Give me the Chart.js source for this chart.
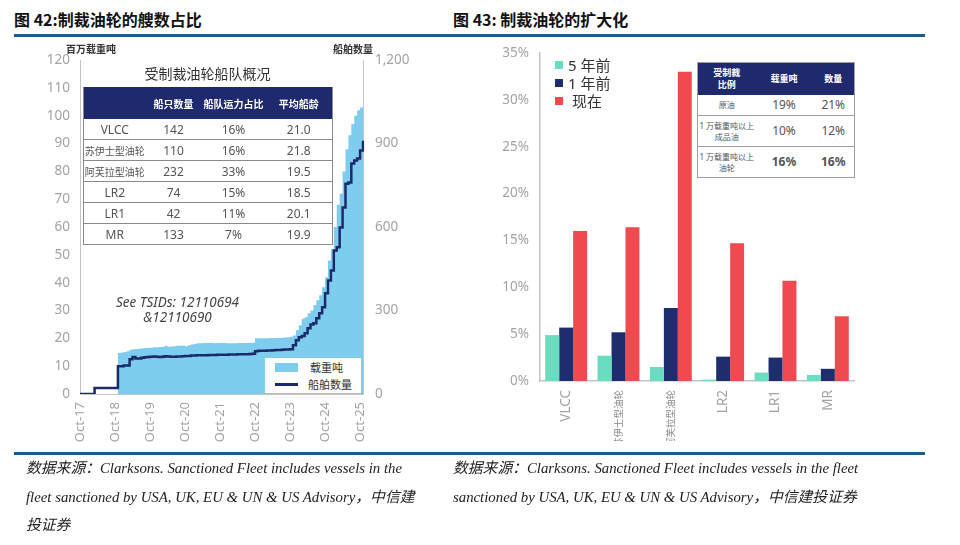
<!DOCTYPE html>
<html>
<head>
<meta charset="utf-8">
<script src="https://cdn.jsdelivr.net/npm/chart.js@4.4.1/dist/chart.umd.min.js"></script>
<style>
  body { margin: 0; width: 960px; height: 545px; background: #fff; position: relative; overflow: hidden;
         font-family: "Noto Sans", "Noto Sans CJK SC", sans-serif; }
  .abs { position: absolute; }
  .title { font-family: "Noto Sans CJK SC", sans-serif; font-weight: bold; font-size: 16px; color: #111; top: 7px; }
  .rule { left: 14px; width: 911px; height: 3px; background: #1f5a8a; }
  .note { font-family: "Liberation Serif", "Noto Sans CJK SC", serif; font-style: italic; font-size: 14.8px;
          color: #222; line-height: 28.5px; top: 454px; white-space: nowrap; }
  table { border-collapse: collapse; table-layout: fixed; }
  td, th { padding: 0; text-align: center; white-space: nowrap; }
  .t1 { border-left: 1px solid #8a8a8a; border-right: 1px solid #8a8a8a; }
  .t1 th { background: #1f2a6e; color: #fff; font-size: 10px; font-weight: bold; height: 32px; }
  .t1 td { border-bottom: 1px solid #8a8a8a; font-size: 12px; color: #555; height: 20px; }
  .t1 td.cn { font-size: 10px; }
  .t2 { border: 1px solid #a0a0a0; }
  .t2 th { background: #1f2a6e; color: #fff; font-size: 9px; font-weight: bold; height: 32px; line-height: 12px; }
  .t2 td { border-bottom: 1px solid #a0a0a0; font-size: 12px; color: #555; }
  .t2 td.lab { font-size: 8px; line-height: 11px; }
  .leg2 { font-size: 15px; color: #333; }
  .sq { display: inline-block; width: 8px; height: 8px; margin-right: 5px; vertical-align: 2px; }
</style>
</head>
<body>

<div class="abs title" style="left:14px;">图 42:制裁油轮的艘数占比</div>
<div class="abs title" style="left:453px;">图 43: 制裁油轮的扩大化</div>
<div class="abs rule" style="top:34px;"></div>

<div class="abs" style="left:0;top:40px;width:440px;height:410px;"><canvas id="fleet"></canvas></div>
<div class="abs" style="left:480px;top:34px;width:420px;height:431px;"><canvas id="growth"></canvas></div>

<div class="abs rule" style="top:452px;"></div>

<div class="abs" style="left:66px;top:41px;font-size:10px;font-weight:bold;color:#333;font-family:'Noto Sans CJK SC';">百万载重吨</div>
<div class="abs" style="left:333px;top:41px;font-size:10px;font-weight:bold;color:#333;font-family:'Noto Sans CJK SC';">船舶数量</div>

<div class="abs" style="left:83px;top:63px;width:249px;text-align:center;font-size:14px;color:#333;font-family:'Noto Sans CJK SC';">受制裁油轮船队概况</div>
<div class="abs" id="fleetTable" style="left:83px;top:87px;background:#fff;"></div>

<div class="abs" style="left:90px;top:295px;width:175px;text-align:center;font-size:13.5px;font-style:italic;color:#444;line-height:15px;">See TSIDs: 12110694<br>&amp;12110690</div>

<div class="abs" style="left:265px;top:358px;width:96px;height:35px;background:#fff;font-size:11px;color:#333;font-family:'Noto Sans CJK SC';">
  <div class="abs" style="left:10px;top:5px;width:23px;height:9px;background:#7fcdee;"></div>
  <div class="abs" style="left:45px;top:1px;">载重吨</div>
  <div class="abs" style="left:10px;top:25px;width:23px;height:3px;background:#1b2a6b;"></div>
  <div class="abs" style="left:43px;top:18px;">船舶数量</div>
</div>

<div class="abs leg2" style="left:555px;top:56px;line-height:18px;">
  <div><span class="sq" style="background:#6adcbf;"></span>5 年前</div>
  <div><span class="sq" style="background:#1e2d6e;"></span>1 年前</div>
  <div><span class="sq" style="background:#f0494f;"></span>&nbsp;现在</div>
</div>
<div class="abs" id="shareTable" style="left:697px;top:62px;background:#fff;"></div>

<div class="abs note" style="left:26px;">数据来源：Clarksons. Sanctioned Fleet includes vessels in the<br>fleet sanctioned by USA, UK, EU &amp; UN &amp; US Advisory，中信建<br>投证券</div>
<div class="abs note" style="left:453px;">数据来源：Clarksons. Sanctioned Fleet includes vessels in the fleet<br>sanctioned by USA, UK, EU &amp; UN &amp; US Advisory，中信建投证券</div>

<script>
// ---- figure 42: sanctioned fleet, monthly Oct-17 .. Nov-25 ----
const monthNames = ["Jan","Feb","Mar","Apr","May","Jun","Jul","Aug","Sep","Oct","Nov","Dec"];
const months = [];
for (let i = 0; i < 98; i++) {
    const m = (9 + i) % 12, y = 17 + Math.floor((9 + i) / 12);
    months.push(monthNames[m] + "-" + y);
}

// million dwt
const dwt = [
    0, 0, 0, 0, 0, 0, 0, 0, 0, 0, 0, 0, 0,
    14.7, 14.9, 15.1, 15.4, 15.9, 16.1, 16.2, 16.3, 16.4, 16.5, 16.6, 16.6,
    16.8, 16.8, 16.9, 17.0, 17.3, 17.0, 17.1, 17.2, 17.3, 17.3, 17.4, 17.2,
    17.5, 17.8, 18.0, 18.2, 18.2, 18.3, 18.3, 18.3, 18.3, 18.2, 18.3, 18.3,
    18.3, 18.2, 18.2, 18.2, 18.2, 18.3, 18.3, 18.3, 18.3, 18.4, 18.4,
    20.0, 20.0, 20.0, 20.0, 20.0, 20.1, 20.1, 20.1, 20.2, 20.2, 20.3, 20.4, 20.6,
    21, 23, 24.7, 27, 27.6, 29, 30, 32, 33.7, 35.5, 38.4, 42, 48, 52, 60, 68, 72, 80, 88, 93, 97, 100, 102, 103, 107
];

// number of vessels
const ships = [
    0, 0, 0, 0, 0, 22, 22, 22, 22, 22, 22, 22, 22,
    100, 100, 102, 102, 125, 133, 128, 128, 130, 132, 133, 134,
    135, 134, 133, 134, 136, 135, 134, 134, 135, 135, 136, 137,
    137, 138, 138, 139, 139, 139, 139, 140, 140, 140, 141, 141,
    141, 141, 142, 142, 142, 143, 143, 143, 143, 144, 145,
    154, 155, 155, 155, 156, 156, 157, 158, 158, 159, 160, 160, 161,
    175, 193, 204, 208, 218, 236, 250, 254, 272, 290, 312, 362, 408, 444, 516, 527, 598, 670, 756, 760, 828, 839, 846, 875, 910
];

const fleetHead = ["", "船只数量", "船队运力占比", "平均船龄"];
const fleetTypes = ["VLCC", "苏伊士型油轮", "阿芙拉型油轮", "LR2", "LR1", "MR"];
const fleetCount = [142, 110, 232, 74, 42, 133];
const fleetShare = ["16%", "16%", "33%", "15%", "11%", "7%"];
const fleetAge = ["21.0", "21.8", "19.5", "18.5", "20.1", "19.9"];

// ---- figure 43: sanctioned share by segment (%) ----
const segments = ["VLCC", "苏伊士型油轮", "阿芙拉型油轮", "LR2", "LR1", "MR"];
const share5y = [4.9, 2.7, 1.5, 0.15, 0.9, 0.65];
const share1y = [5.7, 5.2, 7.8, 2.6, 2.5, 1.3];
const shareNow = [16.0, 16.4, 33.0, 14.7, 10.7, 6.9];
const shareTicks = [0, 5, 10, 15, 20, 25, 30, 35];

const sumHead = ["受制裁<br>比例", "载重吨", "数量"];
const sumLabels = ["原油", "1 万载重吨以上<br>成品油", "1 万载重吨以上<br>油轮"];
const sumDwt = ["19%", "10%", "16%"];
const sumNum = ["21%", "12%", "16%"];

// ---- tables ----
function buildFleetTable() {
    const w = [62, 56, 64, 67];
    let h = '<table class="t1" style="width:249px;"><colgroup>' +
        w.map(x => '<col style="width:' + x + 'px">').join('') + '</colgroup><tr>' +
        fleetHead.map(x => '<th>' + x + '</th>').join('') + '</tr>';
    fleetTypes.forEach((t, i) => {
        const c = /[A-Z]/.test(t) ? '' : ' class="cn"';
        h += '<tr><td' + c + '>' + t + '</td><td>' + fleetCount[i] + '</td><td>' +
            fleetShare[i] + '</td><td>' + fleetAge[i] + '</td></tr>';
    });
    document.getElementById("fleetTable").innerHTML = h + '</table>';
}

function buildShareTable() {
    const w = [58, 57, 42];
    const rh = [20, 31, 31];
    let h = '<table class="t2" style="width:157px;"><colgroup>' +
        w.map(x => '<col style="width:' + x + 'px">').join('') + '</colgroup><tr>' +
        sumHead.map(x => '<th>' + x + '</th>').join('') + '</tr>';
    sumLabels.forEach((t, i) => {
        const b = i === 2 ? ' style="font-weight:bold"' : '';
        h += '<tr style="height:' + rh[i] + 'px"><td class="lab">' + t + '</td><td' + b + '>' +
            sumDwt[i] + '</td><td' + b + '>' + sumNum[i] + '</td></tr>';
    });
    document.getElementById("shareTable").innerHTML = h + '</table>';
}

buildFleetTable();
buildShareTable();

// ---- charts ----
const tickColor = "#a3a3a3";
const axisColor = "#c4c4c4";
const tickFont = { family: "Noto Sans", size: 13.5 };
const isLatin = s => /[A-Z]/.test(s);

new Chart(document.getElementById("fleet"), {
    type: "line",
    data: {
        labels: months,
        datasets: [
            {
                label: "船舶数量",
                data: ships,
                yAxisID: "y1",
                stepped: true,
                borderColor: "#1b2a6b",
                borderWidth: 2.5,
                pointRadius: 0,
                fill: false,
                order: 1,
            },
            {
                label: "载重吨",
                data: dwt,
                yAxisID: "y",
                stepped: true,
                borderWidth: 0,
                backgroundColor: "#7fcdee",
                borderColor: "#7fcdee",
                pointRadius: 0,
                fill: "origin",
                order: 2,
            }
        ]
    },
    options: {
        responsive: true,
        maintainAspectRatio: false,
        animation: false,
        layout: { padding: { left: 30, right: 27, top: 12, bottom: 6 } },
        plugins: { legend: { display: false }, tooltip: { enabled: false } },
        scales: {
            x: {
                grid: { display: false, drawTicks: false },
                border: { color: axisColor },
                afterFit: s => { s.height = 50; },
                ticks: {
                    autoSkip: false,
                    minRotation: 90,
                    maxRotation: 90,
                    padding: 8,
                    color: tickColor,
                    font: { family: "Noto Sans", size: 13 },
                    callback: (v, i) => months[i].startsWith("Oct") ? months[i] : "",
                }
            },
            y: {
                position: "left",
                min: 0,
                max: 120,
                grid: { display: false, drawTicks: false },
                border: { color: axisColor },
                afterFit: s => { s.width = 50; },
                ticks: { stepSize: 10, color: tickColor, font: tickFont, padding: 10 }
            },
            y1: {
                position: "right",
                min: 0,
                max: 1200,
                grid: { display: false, drawTicks: false },
                border: { color: axisColor },
                afterFit: s => { s.width = 50; },
                ticks: {
                    stepSize: 300,
                    color: tickColor,
                    font: tickFont,
                    padding: 12,
                    callback: v => v.toLocaleString("en-US"),
                }
            }
        }
    }
});

new Chart(document.getElementById("growth"), {
    type: "bar",
    data: {
        labels: segments,
        datasets: [
            { label: "5 年前", data: share5y, backgroundColor: "#6adcbf" },
            { label: "1 年前", data: share1y, backgroundColor: "#1e2d6e" },
            { label: "现在", data: shareNow, backgroundColor: "#f0494f" }
        ]
    },
    options: {
        responsive: true,
        maintainAspectRatio: false,
        animation: false,
        layout: { padding: { left: 20, right: 46, top: 5, bottom: 24 } },
        plugins: { legend: { display: false }, tooltip: { enabled: false } },
        datasets: { bar: { categoryPercentage: 0.8, barPercentage: 1.0 } },
        scales: {
            x: {
                grid: { display: false, drawTicks: false },
                border: { color: axisColor, width: 1.5 },
                afterFit: s => { s.height = 60; },
                ticks: {
                    minRotation: 90,
                    maxRotation: 90,
                    padding: 9,
                    color: c => isLatin(segments[c.index]) ? tickColor : "#888",
                    font: c => isLatin(segments[c.index])
                        ? { family: "Noto Sans", size: 13.5 }
                        : { family: "'Noto Sans CJK SC'", size: 9.5 },
                }
            },
            y: {
                min: 0,
                max: 35,
                grid: { display: false, drawTicks: false },
                border: { color: axisColor, width: 1.5 },
                afterFit: s => { s.width = 40; },
                afterBuildTicks: s => { s.ticks = shareTicks.map(v => ({ value: v })); },
                ticks: { color: tickColor, font: tickFont, padding: 11, callback: v => v + "%" }
            }
        }
    }
});
</script>
</body>
</html>
